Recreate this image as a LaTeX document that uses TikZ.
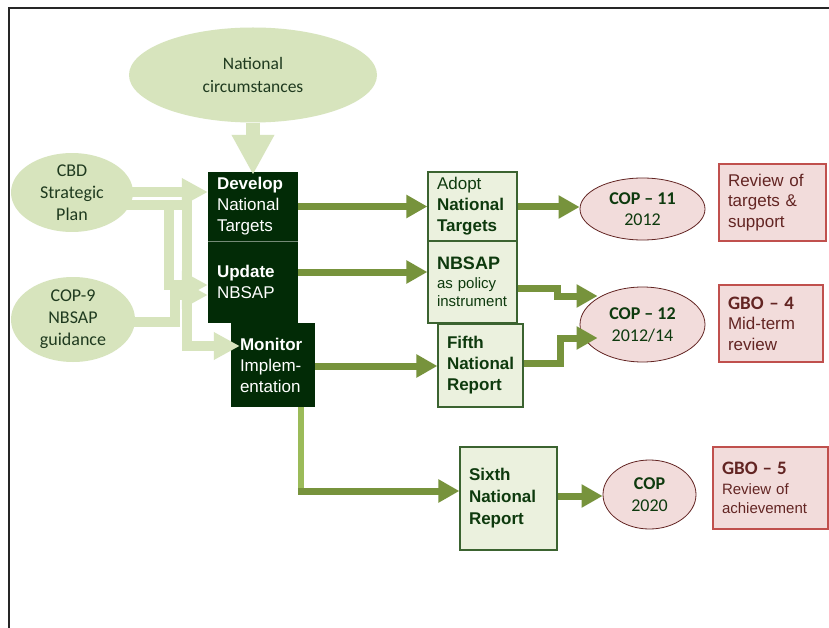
\documentclass[tikz,border=0pt]{standalone}
\usepackage{fontspec}
\setmainfont{Liberation Sans}
\newfontfamily\calib{Carlito}
\usetikzlibrary{arrows.meta,shapes.geometric,calc}
\definecolor{dkbox}{HTML}{022B06}
\definecolor{lgreen}{HTML}{D7E4BD}
\definecolor{pgreen}{HTML}{EBF1DE}
\definecolor{pgborder}{HTML}{3B6330}
\definecolor{gtext}{HTML}{0E3A0E}
\definecolor{garrow}{HTML}{77933C}
\definecolor{garrowlt}{HTML}{9BBB59}
\definecolor{pinkfill}{HTML}{F2DCDB}
\definecolor{redborder}{HTML}{C0504D}
\definecolor{redtext}{HTML}{632523}
\definecolor{elltext}{HTML}{1F3A1F}
\begin{document}
\begin{tikzpicture}[x=1pt,y=-1pt,
  lgell/.style={ellipse, fill=lgreen, draw=none, inner sep=0pt, align=center, text=elltext, font=\calib\fontsize{18}{22}\selectfont},
  darkbox/.style={rectangle, fill=dkbox, draw=none, text=white, align=left, inner xsep=9pt, inner ysep=0pt, font=\fontsize{17}{21}\selectfont},
  pbox/.style={rectangle, fill=pgreen, draw=pgborder, line width=1.2pt, text=gtext, align=left, inner xsep=9pt, inner ysep=0pt, font=\fontsize{17}{21}\selectfont},
  rbox/.style={rectangle, fill=pinkfill, draw=redborder, line width=1.2pt, text=redtext, align=left, inner xsep=9pt, inner ysep=0pt, font=\fontsize{17}{20.5}\selectfont},
  copell/.style={ellipse, fill=pinkfill, draw=redtext, line width=0.8pt, text=gtext, align=center, inner sep=0pt, font=\calib\fontsize{18}{21.5}\selectfont},
  lgarrow/.style={draw=lgreen, line width=10pt, line join=miter, -{Triangle[length=26pt,width=26pt]}},
  garr/.style={draw=garrow, line width=7pt, line join=miter, -{Triangle[length=21pt,width=22pt]}}
]
\useasboundingbox (0,0) rectangle (829,628);
\fill[white] (0,0) rectangle (829,628);
\draw[line width=2.2pt, black!85] (9,640) -- (9,8) -- (840,8);

% light ellipses
\node[lgell, minimum width=248pt, minimum height=95pt, font=\calib\fontsize{17.5}{23}\selectfont] (natc) at (253,75) {National\\circumstances};
\node[lgell, minimum width=122pt, minimum height=75pt] (cbd) at (72,192.5) {CBD\\Strategic\\Plan};
\node[lgell, minimum width=124pt, minimum height=85pt] (cop9) at (73,319.5) {COP-9\\NBSAP\\guidance};

% dark boxes
\node[darkbox, minimum width=90pt, minimum height=69pt, text width=72pt] (develop) at (253,206.5) {\textbf{Develop}\\National\\Targets};
\node[darkbox, minimum width=90pt, minimum height=82pt, text width=72pt] (update) at (253,282) {\textbf{Update}\\NBSAP};
\node[darkbox, minimum width=84pt, minimum height=84pt, text width=66pt] (monitor) at (273,365) {\textbf{Monitor}\\Implem-\\entation};
\draw[color=white!45!dkbox, line width=0.7pt] (develop.south west) -- (develop.south east);

% pale green boxes
\node[pbox, minimum width=89pt, minimum height=69pt, text width=71pt] (adopt) at (472.5,206.5) {Adopt\\\textbf{National}\\\textbf{Targets}};
\node[pbox, minimum width=89pt, minimum height=82pt, text width=71pt, font=\fontsize{15}{18}\selectfont] (nbsap) at (472.5,282) {{\fontsize{18}{18}\selectfont\bfseries NBSAP}\\[1pt]as policy\\instrument};
\node[pbox, minimum width=85pt, minimum height=83pt, text width=67pt, font=\bfseries\fontsize{17}{21}\selectfont] (fifth) at (480.5,365.5) {Fifth\\National\\Report};
\node[pbox, minimum width=97pt, minimum height=103pt, text width=79pt, font=\bfseries\fontsize{17}{22}\selectfont] (sixth) at (508.5,498.5) {Sixth\\National\\Report};

% COP ellipses
\node[copell, minimum width=125pt, minimum height=62pt] (cop11) at (642.5,209) {\textbf{COP – 11}\\2012};
\node[copell, minimum width=125pt, minimum height=75pt, font=\calib\fontsize{18}{22}\selectfont] (cop12) at (642.5,324.5) {\textbf{COP – 12}\\2012/14};
\node[copell, minimum width=93pt, minimum height=69pt, font=\calib\fontsize{18}{22}\selectfont] (cop2020) at (649.5,494.5) {\textbf{COP}\\2020};

% red boxes
\node[rbox, minimum width=107pt, minimum height=77pt, text width=89pt] (review) at (772.5,202.5) {Review of\\targets \&\\support};
\node[rbox, minimum width=104pt, minimum height=77pt, text width=86pt] (gbo4) at (771,323.5) {{\calib\bfseries\fontsize{19}{20}\selectfont GBO – 4}\\Mid-term\\review};
\node[rbox, minimum width=115pt, minimum height=82pt, text width=97pt, font=\fontsize{15}{19}\selectfont] (gbo5) at (770.5,488) {{\calib\bfseries\fontsize{19}{20}\selectfont GBO – 5}\\[1pt]Review of\\achievement};

% light green input arrows
\draw[draw=lgreen, line width=14pt, -{Triangle[length=40pt,width=40pt]}] (natc.south) -- ([yshift=-3pt]develop.north);
\draw[lgarrow] ($(cbd.east)+(-10,12.5)$) -- (187,205) -- (187,346) -- ($(monitor.west)+(9,-19)$);
\draw[lgarrow] ($(cbd.east)+(-10,12.5)$) -- (169,205) -- (169,285) -- (update.west |- 0,285);
\draw[lgarrow] ($(cop9.east)+(-10,2.5)$) -- (175,322) -- (175,295) -- (update.west |- 0,295);
\draw[lgarrow] ($(cbd.east)+(-8,-0.5)$) -- (develop.west |- 0,192);

% green output arrows
\draw[garr] (develop.east) -- (adopt.west);
\draw[garr] (update.east |- 0,272) -- (nbsap.west |- 0,272);
\draw[garr] (monitor.east |- 0,366) -- (fifth.west |- 0,366);
\draw[garr] (adopt.east |- 0,207) -- (cop11.west |- 0,207);
\draw[garr] (nbsap.east |- 0,288) -- (557,288) -- (557,296) -- ($(cop12.west)+(18,-28.5)$);
\draw[garr] (fifth.east |- 0,363) -- (560,363) -- (560,338) -- ($(cop12.west)+(18,13.5)$);
\draw[garr] (sixth.east |- 0,496) -- (cop2020.west |- 0,496);
\draw[draw=garrowlt, line width=6pt] (301,0 |- monitor.south) -- (301,494);
\draw[garr] (298,491) -- (sixth.west |- 0,491);
\end{tikzpicture}
\end{document}
